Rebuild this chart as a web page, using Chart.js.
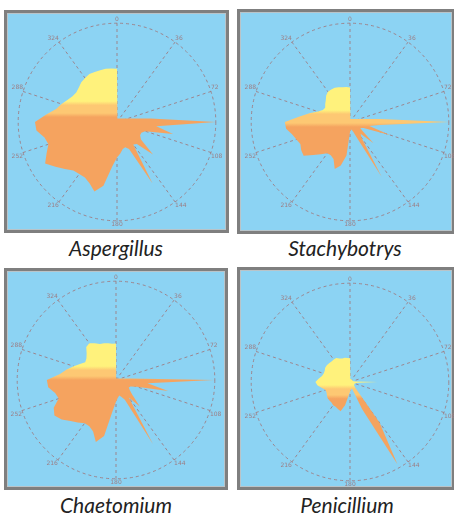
<!DOCTYPE html>
<html>
<head>
<meta charset="utf-8">
<script src="https://cdn.jsdelivr.net/npm/chart.js@4"></script>
<style>
  html, body { margin: 0; padding: 0; background: #ffffff; width: 454px; height: 514px; overflow: hidden; }
  .frame { position: absolute; box-sizing: border-box; border: 3px solid #7f7f7f; background: #8CD3F3;
           box-shadow: inset 0 0 0 1px #b9c4c9; }
  .plot { position: absolute; }
  .cap { position: absolute; width: 220px; text-align: center; font-family: Lato, "Open Sans", sans-serif;
         font-style: italic; font-size: 21px; line-height: 24px; color: #222222; }
</style>
</head>
<body>
<div class="frame" style="left:4px;top:10px;width:225px;height:223px;"></div>
<div class="frame" style="left:237px;top:9px;width:218px;height:225px;"></div>
<div class="frame" style="left:4px;top:268px;width:224px;height:222px;"></div>
<div class="frame" style="left:237px;top:267px;width:218px;height:223px;"></div>

<canvas id="c1" class="plot" width="212" height="212" style="left:11px;top:16px;"></canvas>
<canvas id="c2" class="plot" width="212" height="212" style="left:244px;top:16px;"></canvas>
<canvas id="c3" class="plot" width="212" height="212" style="left:10px;top:274px;"></canvas>
<canvas id="c4" class="plot" width="212" height="212" style="left:244px;top:276px;"></canvas>

<div class="cap" style="left:6px;top:236px;">Aspergillus</div>
<div class="cap" style="left:235px;top:236px;">Stachybotrys</div>
<div class="cap" style="left:6px;top:493px;">Chaetomium</div>
<div class="cap" style="left:237px;top:493px;">Penicillium</div>

<script>
// Direction of each sample, degrees clockwise from the top
const angleLabels = [
  0, 6, 12, 18, 24, 30, 36, 42, 48, 54, 60, 66, 72, 78, 84, 90, 96, 102, 108, 114,
  120, 126, 132, 138, 144, 150, 156, 162, 168, 174, 180, 186, 192, 198, 204, 210, 216, 222, 228, 234,
  240, 246, 252, 258, 264, 270, 276, 282, 288, 294, 300, 306, 312, 318, 324, 330, 336, 342, 348, 354
];

// Labels shown on the ten spokes
const spokeLabels = ['0', '36', '72', '108', '144', '180', '216', '252', '288', '324'];

// Relative response per direction (0..1)
const aspergillus = [
  0.54, 0.036, 0.037, 0.038, 0.039, 0.041, 0.044, 0.048, 0.053, 0.061, 0.071, 0.088, 0.116, 0.172, 0.34,
  1.00, 0.40, 0.58, 0.30, 0.27, 0.27, 0.30, 0.49, 0.30, 0.28, 0.72, 0.30, 0.27, 0.28, 0.32,
  0.36, 0.45, 0.66, 0.74, 0.68, 0.65, 0.65, 0.66, 0.71, 0.77, 0.84, 0.78, 0.73, 0.75, 0.82,
  0.83, 0.72, 0.63, 0.59, 0.55, 0.52, 0.51, 0.52, 0.54, 0.55, 0.56, 0.555, 0.55, 0.55, 0.545
];

const stachybotrys = [
  0.35, 0.031, 0.032, 0.033, 0.034, 0.036, 0.038, 0.042, 0.046, 0.053, 0.062, 0.076, 0.10, 0.15, 0.30,
  1.00, 0.30, 0.20, 0.43, 0.15, 0.12, 0.16, 0.32, 0.16, 0.20, 0.64, 0.18, 0.10, 0.08, 0.08,
  0.10, 0.34, 0.45, 0.50, 0.41, 0.39, 0.39, 0.44, 0.50, 0.58, 0.57, 0.55, 0.57, 0.60, 0.65,
  0.66, 0.52, 0.42, 0.34, 0.30, 0.29, 0.31, 0.33, 0.36, 0.38, 0.38, 0.38, 0.37, 0.36, 0.355
];

const chaetomium = [
  0.37, 0.015, 0.016, 0.016, 0.017, 0.018, 0.019, 0.021, 0.023, 0.026, 0.031, 0.038, 0.05, 0.074, 0.146,
  0.99, 0.32, 0.54, 0.22, 0.16, 0.15, 0.17, 0.22, 0.36, 0.22, 0.75, 0.22, 0.18, 0.16, 0.18,
  0.22, 0.31, 0.58, 0.66, 0.57, 0.54, 0.54, 0.58, 0.62, 0.68, 0.72, 0.69, 0.61, 0.63, 0.69,
  0.70, 0.57, 0.51, 0.45, 0.40, 0.36, 0.37, 0.40, 0.45, 0.46, 0.43, 0.40, 0.39, 0.38, 0.37
];

const penicillium = [
  0.24, 0.03, 0.03, 0.03, 0.03, 0.03, 0.03, 0.03, 0.03, 0.03, 0.03, 0.03, 0.03, 0.04, 0.06,
  0.28, 0.08, 0.06, 0.05, 0.05, 0.05, 0.05, 0.06, 0.08, 0.51, 0.96, 0.30, 0.08, 0.07, 0.08,
  0.10, 0.14, 0.24, 0.31, 0.30, 0.29, 0.29, 0.28, 0.28, 0.28, 0.27, 0.26, 0.26, 0.29, 0.33,
  0.35, 0.32, 0.29, 0.28, 0.28, 0.29, 0.29, 0.285, 0.28, 0.28, 0.28, 0.26, 0.25, 0.25, 0.245
];

const YELLOW = '#FFF27C';
const PEACH = '#FDC873';
const ORANGE = '#F5A35F';
const GRID = 'rgba(160,120,125,0.85)';
const LABEL = '#9c7f86';

// Vertical colour bands: [end of yellow, end of peach] as offsets from the centre, in radii (down = +)
function shapeFill(bands) {
  return (ctx) => {
    const chart = ctx.chart;
    const r = chart.scales.r;
    if (!r || !chart.chartArea) return YELLOW;
    const top = r.yCenter - r.drawingArea;
    const g = chart.ctx.createLinearGradient(0, top, 0, top + 2 * r.drawingArea);
    const p1 = (1 + bands[0]) / 2;
    const p2 = (1 + bands[1]) / 2;
    g.addColorStop(0, YELLOW);
    g.addColorStop(p1 - 0.01, YELLOW);
    g.addColorStop(p1 + 0.01, PEACH);
    g.addColorStop(p2 - 0.01, PEACH);
    g.addColorStop(p2 + 0.01, ORANGE);
    g.addColorStop(1, ORANGE);
    return g;
  };
}

function makeChart(id, values, bands) {
  return new Chart(document.getElementById(id), {
    type: 'radar',
    data: {
      labels: angleLabels,
      datasets: [{
        data: values,
        fill: true,
        backgroundColor: shapeFill(bands),
        borderWidth: 0,
        pointRadius: 0,
        tension: 0
      }]
    },
    options: {
      responsive: false,
      animation: false,
      events: [],
      layout: { padding: 0 },
      plugins: { legend: { display: false }, tooltip: { enabled: false } },
      scales: {
        r: {
          min: 0,
          max: 1,
          ticks: { display: false, stepSize: 1 },
          grid: { circular: true, color: GRID, lineWidth: 1 },
          border: { dash: [3, 3] },
          angleLines: {
            color: (c) => (c.index % 6 === 0 ? GRID : 'rgba(0,0,0,0)'),
            lineWidth: (c) => (c.index % 6 === 0 ? 1 : 0),
            borderDash: [3, 3]
          },
          pointLabels: {
            padding: 0,
            color: LABEL,
            font: { size: 6, family: 'DejaVu Sans' },
            callback: (lbl, i) => (i % 6 === 0 ? spokeLabels[i / 6] : '')
          }
        }
      }
    }
  });
}

makeChart('c1', aspergillus, [-0.19, -0.07]);
makeChart('c2', stachybotrys, [-0.10, 0.03]);
makeChart('c3', chaetomium, [-0.12, -0.02]);
makeChart('c4', penicillium, [0.05, 0.15]);
</script>
</body>
</html>
